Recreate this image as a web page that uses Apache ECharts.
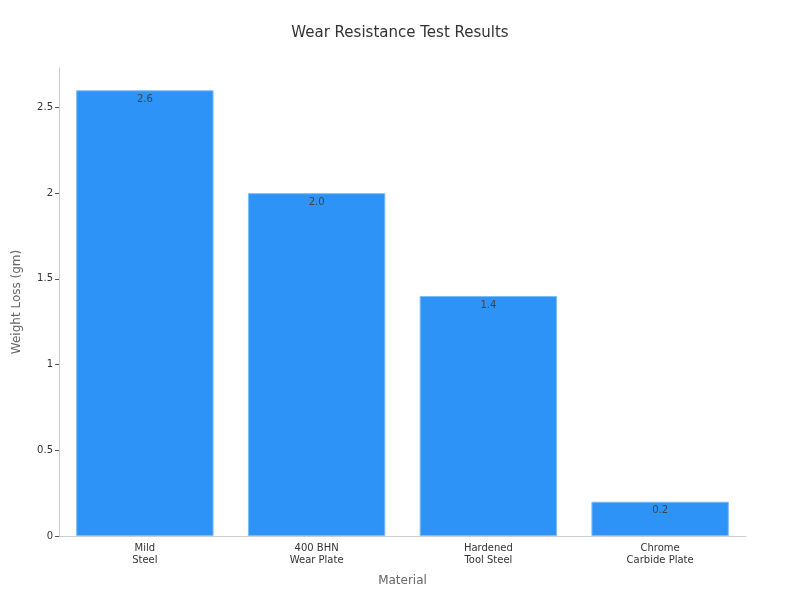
<!DOCTYPE html>
<html>
  <head>
    <meta charset="UTF-8" />
    <title>Wear Resistance Test Results</title>
    <script src="https://cdn.jsdelivr.net/npm/echarts@6.0.0/dist/echarts.min.js"></script>
  </head>
  <body style="margin: 0">
    <div id="wearChart" style="width: 800px; height: 600px"></div>
  </body>
  <script>
    // values
    const materials = ["Mild\nSteel", "400 BHN\nWear Plate", "Hardened\nTool Steel", "Chrome\nCarbide Plate"];
    const weightLoss = [2.6, 2.0, 1.4, 0.2];
    const yTicks = [0, 0.5, 1, 1.5, 2, 2.5];

    let myChart = echarts.init(document.getElementById("wearChart"));

    const font = "DejaVu Sans";

    myChart.setOption({
      textStyle: { fontFamily: font },
      title: {
        text: "Wear Resistance Test Results",
        left: "center",
        top: 21,
        textStyle: { fontFamily: font, fontSize: 15, fontWeight: "normal", color: "#333" },
      },
      grid: { left: 59, right: 54, top: 68, bottom: 64 },
      xAxis: {
        type: "category",
        data: materials,
        name: "Material",
        nameLocation: "middle",
        nameGap: 39,
        nameTextStyle: { fontFamily: font, fontSize: 12, color: "#666" },
        axisLine: { lineStyle: { color: "#ccc" } },
        axisTick: { alignWithLabel: true, length: 4, lineStyle: { color: "#555" } },
        axisLabel: { fontFamily: font, fontSize: 10, color: "#333", lineHeight: 12, margin: 6 },
      },
      yAxis: {
        type: "value",
        min: 0,
        max: 2.73,
        interval: 0.5,
        name: "Weight Loss (gm)",
        nameLocation: "middle",
        nameGap: 36,
        nameTextStyle: { fontFamily: font, fontSize: 12, color: "#666" },
        axisLine: { show: true, lineStyle: { color: "#ccc" } },
        axisTick: { show: true, length: 4, lineStyle: { color: "#555" } },
        splitLine: { show: false },
        axisLabel: {
          fontFamily: font,
          fontSize: 10,
          color: "#333",
          margin: 6,
          showMaxLabel: false,
          formatter: (v) => (yTicks.includes(v) ? String(v) : ""),
        },
      },
      series: [
        {
          name: "Weight Loss",
          type: "bar",
          data: weightLoss,
          barWidth: "80%",
          itemStyle: { color: "#2E93F7", borderColor: "#7cbcf7", borderWidth: 1 },
          label: {
            show: true,
            position: "insideTop",
            distance: 4,
            fontFamily: font,
            fontSize: 10,
            color: "#444",
            formatter: (p) => p.value.toFixed(1),
          },
        },
      ],
    });
  </script>
</html>
